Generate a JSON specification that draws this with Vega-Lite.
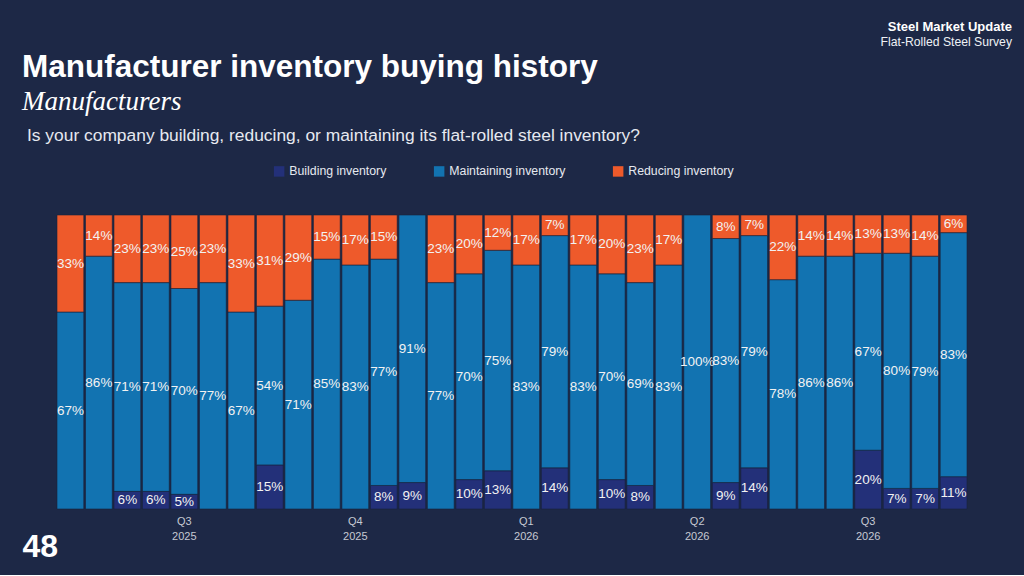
{
  "$schema": "https://vega.github.io/schema/vega-lite/v6.json",
  "background": "#1d2846",
  "padding": {"left": 22, "top": 20, "right": 57, "bottom": 13},
  "config": {
    "view": {"stroke": null},
    "font": "Liberation Sans"
  },
  "title": {
    "text": "Steel Market Update",
    "subtitle": "Flat-Rolled Steel Survey",
    "anchor": "end",
    "frame": "group",
    "dx": 45,
    "font": "Liberation Sans",
    "fontSize": 13,
    "fontWeight": "bold",
    "color": "#ffffff",
    "subtitleFont": "Liberation Sans",
    "subtitleFontSize": 12.2,
    "subtitleColor": "#eef1f5",
    "subtitlePadding": 2,
    "offset": 4
  },
  "vconcat": [
    {
      "title": {
        "text": "Manufacturer inventory buying history",
        "subtitle": "Manufacturers",
        "anchor": "start",
        "frame": "bounds",
        "font": "Liberation Sans",
        "fontSize": 31.5,
        "fontWeight": "bold",
        "color": "#ffffff",
        "subtitleFont": "Liberation Serif",
        "subtitleFontStyle": "italic",
        "subtitleFontSize": 27,
        "subtitleColor": "#ffffff",
        "subtitlePadding": 6,
        "offset": 12
      },
      "vconcat": [
        {
          "title": {
            "text": "Is your company building, reducing, or maintaining its flat-rolled steel inventory?",
            "anchor": "start",
            "frame": "bounds",
            "dx": 5,
            "font": "Liberation Sans",
            "fontSize": 17.4,
            "fontWeight": "normal",
            "color": "#e6e9f0",
            "offset": 70
          },
          "width": 910,
          "height": 294,
          "data": {
            "values": [
              {"bar": 1, "type": "Maintaining inventory", "share": 0.67},
              {"bar": 1, "type": "Reducing inventory", "share": 0.33},
              {"bar": 2, "type": "Maintaining inventory", "share": 0.86},
              {"bar": 2, "type": "Reducing inventory", "share": 0.14},
              {"bar": 3, "type": "Building inventory", "share": 0.06},
              {"bar": 3, "type": "Maintaining inventory", "share": 0.71},
              {"bar": 3, "type": "Reducing inventory", "share": 0.23},
              {"bar": 4, "type": "Building inventory", "share": 0.06},
              {"bar": 4, "type": "Maintaining inventory", "share": 0.71},
              {"bar": 4, "type": "Reducing inventory", "share": 0.23},
              {"bar": 5, "type": "Building inventory", "share": 0.05},
              {"bar": 5, "type": "Maintaining inventory", "share": 0.70},
              {"bar": 5, "type": "Reducing inventory", "share": 0.25},
              {"bar": 6, "type": "Maintaining inventory", "share": 0.77},
              {"bar": 6, "type": "Reducing inventory", "share": 0.23},
              {"bar": 7, "type": "Maintaining inventory", "share": 0.67},
              {"bar": 7, "type": "Reducing inventory", "share": 0.33},
              {"bar": 8, "type": "Building inventory", "share": 0.15},
              {"bar": 8, "type": "Maintaining inventory", "share": 0.54},
              {"bar": 8, "type": "Reducing inventory", "share": 0.31},
              {"bar": 9, "type": "Maintaining inventory", "share": 0.71},
              {"bar": 9, "type": "Reducing inventory", "share": 0.29},
              {"bar": 10, "type": "Maintaining inventory", "share": 0.85},
              {"bar": 10, "type": "Reducing inventory", "share": 0.15},
              {"bar": 11, "type": "Maintaining inventory", "share": 0.83},
              {"bar": 11, "type": "Reducing inventory", "share": 0.17},
              {"bar": 12, "type": "Building inventory", "share": 0.08},
              {"bar": 12, "type": "Maintaining inventory", "share": 0.77},
              {"bar": 12, "type": "Reducing inventory", "share": 0.15},
              {"bar": 13, "type": "Building inventory", "share": 0.09},
              {"bar": 13, "type": "Maintaining inventory", "share": 0.91},
              {"bar": 14, "type": "Maintaining inventory", "share": 0.77},
              {"bar": 14, "type": "Reducing inventory", "share": 0.23},
              {"bar": 15, "type": "Building inventory", "share": 0.10},
              {"bar": 15, "type": "Maintaining inventory", "share": 0.70},
              {"bar": 15, "type": "Reducing inventory", "share": 0.20},
              {"bar": 16, "type": "Building inventory", "share": 0.13},
              {"bar": 16, "type": "Maintaining inventory", "share": 0.75},
              {"bar": 16, "type": "Reducing inventory", "share": 0.12},
              {"bar": 17, "type": "Maintaining inventory", "share": 0.83},
              {"bar": 17, "type": "Reducing inventory", "share": 0.17},
              {"bar": 18, "type": "Building inventory", "share": 0.14},
              {"bar": 18, "type": "Maintaining inventory", "share": 0.79},
              {"bar": 18, "type": "Reducing inventory", "share": 0.07},
              {"bar": 19, "type": "Maintaining inventory", "share": 0.83},
              {"bar": 19, "type": "Reducing inventory", "share": 0.17},
              {"bar": 20, "type": "Building inventory", "share": 0.10},
              {"bar": 20, "type": "Maintaining inventory", "share": 0.70},
              {"bar": 20, "type": "Reducing inventory", "share": 0.20},
              {"bar": 21, "type": "Building inventory", "share": 0.08},
              {"bar": 21, "type": "Maintaining inventory", "share": 0.69},
              {"bar": 21, "type": "Reducing inventory", "share": 0.23},
              {"bar": 22, "type": "Maintaining inventory", "share": 0.83},
              {"bar": 22, "type": "Reducing inventory", "share": 0.17},
              {"bar": 23, "type": "Maintaining inventory", "share": 1.00},
              {"bar": 24, "type": "Building inventory", "share": 0.09},
              {"bar": 24, "type": "Maintaining inventory", "share": 0.83},
              {"bar": 24, "type": "Reducing inventory", "share": 0.08},
              {"bar": 25, "type": "Building inventory", "share": 0.14},
              {"bar": 25, "type": "Maintaining inventory", "share": 0.79},
              {"bar": 25, "type": "Reducing inventory", "share": 0.07},
              {"bar": 26, "type": "Maintaining inventory", "share": 0.78},
              {"bar": 26, "type": "Reducing inventory", "share": 0.22},
              {"bar": 27, "type": "Maintaining inventory", "share": 0.86},
              {"bar": 27, "type": "Reducing inventory", "share": 0.14},
              {"bar": 28, "type": "Maintaining inventory", "share": 0.86},
              {"bar": 28, "type": "Reducing inventory", "share": 0.14},
              {"bar": 29, "type": "Building inventory", "share": 0.20},
              {"bar": 29, "type": "Maintaining inventory", "share": 0.67},
              {"bar": 29, "type": "Reducing inventory", "share": 0.13},
              {"bar": 30, "type": "Building inventory", "share": 0.07},
              {"bar": 30, "type": "Maintaining inventory", "share": 0.80},
              {"bar": 30, "type": "Reducing inventory", "share": 0.13},
              {"bar": 31, "type": "Building inventory", "share": 0.07},
              {"bar": 31, "type": "Maintaining inventory", "share": 0.79},
              {"bar": 31, "type": "Reducing inventory", "share": 0.14},
              {"bar": 32, "type": "Building inventory", "share": 0.11},
              {"bar": 32, "type": "Maintaining inventory", "share": 0.83},
              {"bar": 32, "type": "Reducing inventory", "share": 0.06}
            ]
          },
          "transform": [
            {"stack": "share", "groupby": ["bar"], "sort": [{"field": "type", "order": "ascending"}], "as": ["s0", "s1"]}
          ],
          "encoding": {
            "x": {
              "field": "bar",
              "type": "ordinal",
              "scale": {"paddingInner": 0.06, "paddingOuter": 0},
              "axis": {
                "title": "48",
                "titleFont": "Liberation Sans",
                "titleFontSize": 32,
                "titleFontWeight": "bold",
                "titleColor": "#ffffff",
                "titleAlign": "left",
                "titleBaseline": "alphabetic",
                "titleX": -35,
                "titleY": 47,
                "domain": false,
                "ticks": false,
                "labelAngle": 0,
                "labelPadding": 6,
                "labelFontSize": 11,
                "labelLineHeight": 15,
                "labelColor": "#c5c9d2",
                "labelExpr": "datum.value == 5 ? ['Q3','2025'] : datum.value == 11 ? ['Q4','2025'] : datum.value == 17 ? ['Q1','2026'] : datum.value == 23 ? ['Q2','2026'] : datum.value == 29 ? ['Q3','2026'] : ''"
              }
            },
            "y": {"field": "s1", "type": "quantitative", "scale": {"domain": [0, 1], "nice": false}, "axis": null}
          },
          "layer": [
            {
              "mark": {"type": "bar", "stroke": "#18213a", "strokeWidth": 0.6},
              "encoding": {
                "y2": {"field": "s0"},
                "color": {
                  "field": "type",
                  "type": "nominal",
                  "scale": {
                    "domain": ["Building inventory", "Maintaining inventory", "Reducing inventory"],
                    "range": ["#233079", "#1273b1", "#ee5a2b"]
                  },
                  "legend": {
                    "title": null,
                    "orient": "none",
                    "direction": "horizontal",
                    "legendX": 216,
                    "legendY": -50,
                    "padding": 0,
                    "symbolType": "square",
                    "symbolSize": 110,
                    "symbolStrokeWidth": 0,
                    "labelFont": "Liberation Sans",
                    "labelFontSize": 12.3,
                    "labelColor": "#e6e9f0",
                    "labelOffset": 4,
                    "columnPadding": 46
                  }
                }
              }
            },
            {
              "mark": {"type": "text", "font": "Liberation Sans", "fontSize": 13.5, "color": "#f2f2f2", "baseline": "middle", "dy": {"expr": "datum.share * 147"}},
              "encoding": {
                "text": {"field": "share", "type": "quantitative", "format": ".0%"}
              }
            }
          ]
        }
      ]
    }
  ]
}
